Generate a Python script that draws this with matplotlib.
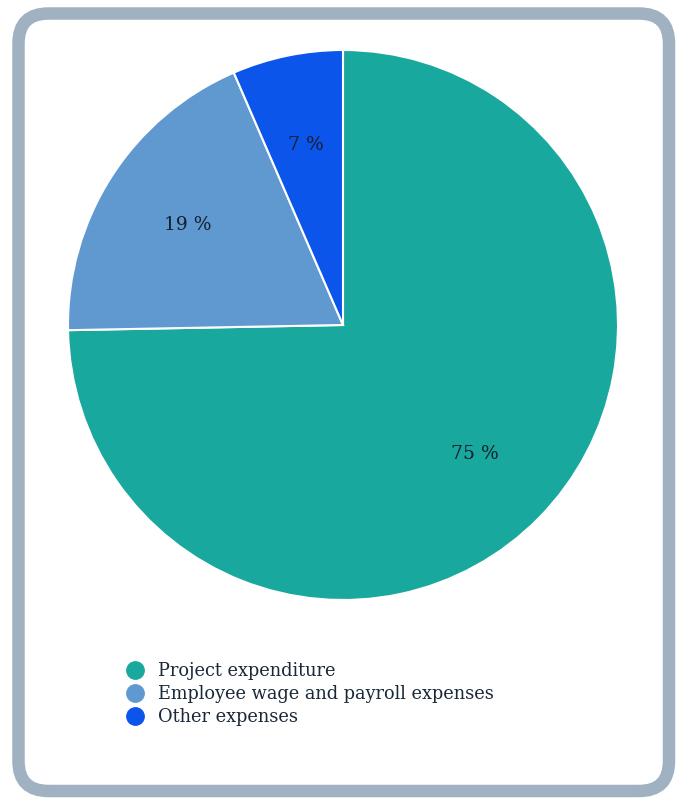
import matplotlib.pyplot as plt
from matplotlib.patches import FancyBboxPatch
from matplotlib.lines import Line2D

# データ
labels = ["Project expenditure", "Employee wage and payroll expenses", "Other expenses"]
shares = [74.7, 18.8, 6.5]
pct_text = ["75 %", "19 %", "7 %"]
colors = ["#19a89d", "#5f99d0", "#0c55ea"]

plt.rcParams["font.family"] = ["DejaVu Serif"]
text_color = "#1b2838"

fig = plt.figure(figsize=(6.83, 8.05), dpi=100)

# 枠（角丸）
bg = fig.add_axes([0, 0, 1, 1])
bg.set_xlim(0, 683)
bg.set_ylim(805, 0)
bg.axis("off")
box = FancyBboxPatch((18.5, 13.5), 669 - 18.5, 791 - 13.5,
                     boxstyle="round,pad=0,rounding_size=30",
                     facecolor="white", edgecolor="#a0b1c2", linewidth=9)
bg.add_patch(box)

# 円グラフ
cx, cy, r = 343, 325, 275
ax = fig.add_axes([(cx - r) / 683, 1 - (cy + r) / 805, 2 * r / 683, 2 * r / 805])
wedges, texts = ax.pie(shares, colors=colors, startangle=90, counterclock=False,
                       wedgeprops=dict(edgecolor="white", linewidth=1.5),
                       labels=pct_text, labeldistance=0.67,
                       textprops=dict(color="#13202e", fontsize=13.5, fontweight="medium"))
for t in texts:
    t.set_ha("center")
    t.set_va("center")
ax.set_xlim(-1, 1)
ax.set_ylim(-1, 1)
ax.set_aspect("equal")

# 凡例
handles = [Line2D([], [], marker="o", linestyle="", markersize=12.5, color=c) for c in colors]
leg = fig.legend(handles, labels, loc="upper left", bbox_to_anchor=(117 / 683, 1 - 653 / 805),
                 frameon=False, fontsize=12.8, labelcolor=text_color,
                 handlelength=1.0, handletextpad=0.8, labelspacing=0.28, borderpad=0)

fig.savefig("out.png", dpi=100)
